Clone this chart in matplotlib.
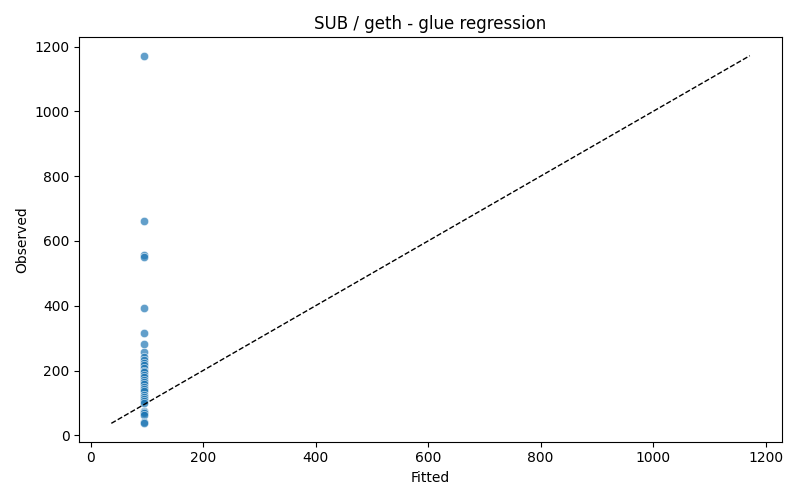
import matplotlib
matplotlib.use("Agg")
import matplotlib.pyplot as plt

observed = [1172, 662, 556, 552, 393, 316, 282, 258, 242, 232, 224, 216, 208,
            200, 194, 186, 180, 172, 165, 158, 150, 144, 138, 126, 118, 112,
            106, 100, 75, 72, 68, 62, 40, 37]
fitted = [95] * len(observed)


def main() -> None:
    fig, ax = plt.subplots(figsize=(8, 5), dpi=100)
    ax.scatter(fitted, observed, s=36, color="#1f77b4", alpha=0.7,
               edgecolors="white", linewidths=0.5)
    lo = min(min(observed), min(fitted))
    hi = max(max(observed), max(fitted))
    ax.plot([lo, hi], [lo, hi], "k--", linewidth=1)
    ax.set_xlabel("Fitted")
    ax.set_ylabel("Observed")
    ax.set_title("SUB / geth - glue regression")
    fig.tight_layout()
    fig.savefig("out.png", dpi=100)
    plt.close(fig)


if __name__ == "__main__":
    main()
